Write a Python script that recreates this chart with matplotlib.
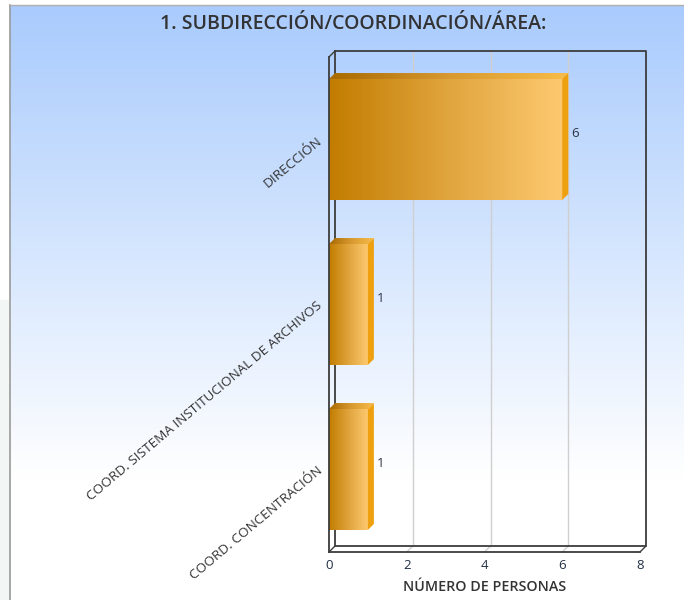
import matplotlib
matplotlib.use("Agg")
import matplotlib.pyplot as plt
import numpy as np
from matplotlib.patches import Polygon
from matplotlib.lines import Line2D
from matplotlib.transforms import ScaledTranslation
from matplotlib.colors import LinearSegmentedColormap

# ---- data ----
categories = ["DIRECCIÓN", "COORD. SISTEMA INSTITUCIONAL DE ARCHIVOS", "COORD. CONCENTRACIÓN"]
values = [6, 1, 1]
x_ticks = [0, 2, 4, 6, 8]
title = "1. SUBDIRECCIÓN/COORDINACIÓN/ÁREA:"
x_title = "NÚMERO DE PERSONAS"

plt.rcParams['font.family'] = ['Open Sans', 'DejaVu Sans']

W, H, DPI = 684, 600, 100
fig = plt.figure(figsize=(W / DPI, H / DPI), dpi=DPI)

# ---- background ----
bg = fig.add_axes([0, 0, 1, 1], zorder=-5)
bg.set_xlim(0, W)
bg.set_ylim(H, 0)
bg.axis('off')
top_c = np.array([169, 203, 253]) / 255.0
grad_rows = np.linspace(0, 1, 200)
grad = np.clip(grad_rows, 0, 1)[:, None, None] * (1 - top_c) + top_c
grad = np.repeat(grad, 2, axis=1)
bg.add_patch(plt.Rectangle((0, 0), W, H, color='white', zorder=0))
bg.imshow(grad, extent=(10, W, 480, 5), aspect='auto', zorder=1, interpolation='bilinear')
bg.add_patch(plt.Rectangle((0, 300), 10, 300, color='#f2f6f4', zorder=1))
bg.plot([10, 10], [5, H], color='#9a9a9a', lw=1.2, zorder=2)
bg.plot([10, W], [5, 5], color='#b0b0b0', lw=1.0, zorder=2)
bg.set_xlim(0, W)
bg.set_ylim(H, 0)

# ---- main axes (front plane) ----
ax = fig.add_axes([329 / W, 48 / H, 311 / W, 495 / H])
ax.patch.set_visible(False)
for s in ax.spines.values():
    s.set_visible(False)
n = len(categories)
ax.set_xlim(0, 8)
ax.set_ylim(n - 0.5, -0.5)
ax.set_autoscale_on(False)

DX_PX, DY_PX = 6, 6
off = ax.transData + ScaledTranslation(DX_PX / DPI, DY_PX / DPI, fig.dpi_scale_trans)
bbox = ax.get_position()
px_per_x = bbox.width * W / 8.0
px_per_y = bbox.height * H / n
dx = DX_PX / px_per_x
dy = DY_PX / px_per_y

frame_c = '#3c3c3c'
grid_c = '#cfcfcf'
y0, y1 = -0.5, n - 0.5

# back wall gridlines
for t in x_ticks[1:-1]:
    ax.add_line(Line2D([t, t], [y0, y1], transform=off, color=grid_c, lw=1.0, zorder=1, clip_on=False))
# floor gridlines (front to back)
for t in x_ticks[1:-1]:
    ax.add_line(Line2D([t, t + dx], [y1, y1 - dy], color=grid_c, lw=1.0, zorder=1, clip_on=False))

# back wall frame
ax.add_line(Line2D([0, 8, 8, 0, 0], [y0, y0, y1, y1, y0], transform=off, color=frame_c, lw=1.3, zorder=2, clip_on=False))
# front frame and connectors
ax.add_line(Line2D([0, 0], [y0, y1], color=frame_c, lw=1.3, zorder=6, clip_on=False))
ax.add_line(Line2D([0, 8], [y1, y1], color=frame_c, lw=1.3, zorder=2, clip_on=False))
ax.add_line(Line2D([0, dx], [y0, y0 - dy], color=frame_c, lw=1.0, zorder=2, clip_on=False))
ax.add_line(Line2D([0, dx], [y1, y1 - dy], color=frame_c, lw=1.0, zorder=2, clip_on=False))
ax.add_line(Line2D([8, 8 + dx], [y1, y1 - dy], color=frame_c, lw=1.0, zorder=2, clip_on=False))

# ---- bars ----
front_cmap = LinearSegmentedColormap.from_list('f', ['#c27c00', '#e0a43c', '#fdc970'])
top_cmap = LinearSegmentedColormap.from_list('t', ['#a86a00', '#d89a30', '#f8bc48'])
side_c = '#eea00e'
bh = 0.733
g = np.linspace(0, 1, 256)[None, :]
for i, v in enumerate(values):
    ta, bo = i - bh / 2, i + bh / 2
    im = ax.imshow(g, cmap=front_cmap, extent=(0, v, bo, ta), aspect='auto', zorder=4, interpolation='bilinear')
    im.set_clip_on(False)
    top_poly = Polygon([(0, ta), (v, ta), (v + dx, ta - dy), (dx, ta - dy)], closed=True,
                       facecolor='none', edgecolor='none', transform=ax.transData)
    ax.add_patch(top_poly)
    imt = ax.imshow(g, cmap=top_cmap, extent=(0, v + dx, ta, ta - dy), aspect='auto', zorder=4, interpolation='bilinear')
    imt.set_clip_path(top_poly)
    ax.add_patch(Polygon([(v, ta), (v + dx, ta - dy), (v + dx, bo - dy), (v, bo)], closed=True,
                         facecolor=side_c, edgecolor='none', zorder=4, clip_on=False))
    ax.annotate(str(v), xy=(v, i), xytext=(9, 6), textcoords='offset pixels',
                ha='left', va='center', fontsize=9.5, color='#2a3340', zorder=7, annotation_clip=False)

ax.set_xlim(0, 8)
ax.set_ylim(n - 0.5, -0.5)

# ---- ticks and labels ----
ax.set_yticks([])
ax.set_xticks(x_ticks)
ax.set_xticklabels([str(t) for t in x_ticks], fontsize=9.5, color='#223044')
ax.tick_params(axis='x', length=0, pad=5)
ax.set_xlabel(x_title, fontsize=10.3, fontweight='semibold', color='#333333', labelpad=6)

for i, c in enumerate(categories):
    ax.text(-0.22, i, c, rotation=40, rotation_mode='anchor', ha='right', va='center',
            fontsize=9.7, color='#333333', transform=ax.transData, clip_on=False)

fig.text(353 / W, 1 - 24 / H, title, ha='center', va='center', fontsize=14, fontweight='semibold', color='#333333')

fig.savefig('out.png', dpi=DPI)
